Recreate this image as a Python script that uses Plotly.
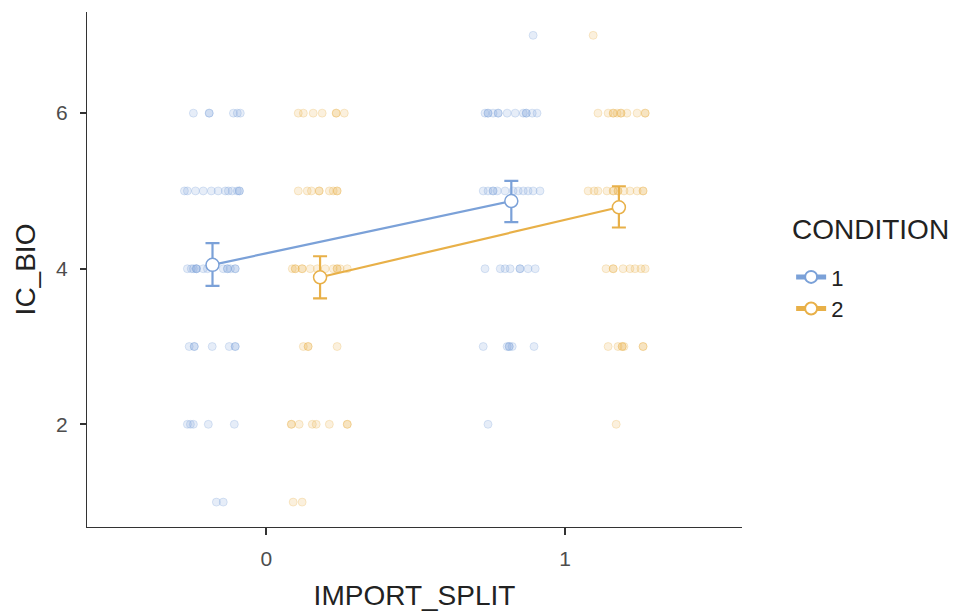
import plotly.graph_objects as go

# ---------------- data ----------------
split_levels = [0, 1]
condition_names = ["1", "2"]

# raw observations (IMPORT_SPLIT position incl. dodge/jitter, IC_BIO)
c1_x = [-0.244, -0.191, -0.191, -0.110, -0.097, -0.087,
        -0.274, -0.264, -0.237, -0.211, -0.184, -0.161, -0.137, -0.127, -0.114, -0.097, -0.090, -0.090,
        -0.264, -0.251, -0.244, -0.234, -0.234, -0.234, -0.211, -0.197, -0.144, -0.130, -0.130, -0.120, -0.104, -0.104,
        -0.258, -0.241, -0.241, -0.181, -0.124, -0.104, -0.104,
        -0.264, -0.254, -0.244, -0.194, -0.107,
        -0.167, -0.144,
        0.893,
        0.732, 0.742, 0.742, 0.759, 0.776, 0.776, 0.806, 0.833, 0.860, 0.870, 0.870, 0.890, 0.906,
        0.726, 0.742, 0.759, 0.759, 0.773, 0.799, 0.826, 0.843, 0.860, 0.876, 0.893, 0.916,
        0.732, 0.783, 0.799, 0.816, 0.849, 0.849, 0.876, 0.900,
        0.726, 0.806, 0.813, 0.813, 0.823, 0.896,
        0.742]
c1_y = [6, 6, 6, 6, 6, 6,
        5, 5, 5, 5, 5, 5, 5, 5, 5, 5, 5, 5,
        4, 4, 4, 4, 4, 4, 4, 4, 4, 4, 4, 4, 4, 4,
        3, 3, 3, 3, 3, 3, 3,
        2, 2, 2, 2, 2,
        1, 1,
        7,
        6, 6, 6, 6, 6, 6, 6, 6, 6, 6, 6, 6, 6,
        5, 5, 5, 5, 5, 5, 5, 5, 5, 5, 5, 5,
        4, 4, 4, 4, 4, 4, 4, 4,
        3, 3, 3, 3, 3, 3,
        2]

c2_x = [0.107, 0.124, 0.157, 0.187, 0.234, 0.234, 0.261,
        0.107, 0.137, 0.151, 0.177, 0.177, 0.211, 0.224, 0.237, 0.237,
        0.087, 0.097, 0.097, 0.120, 0.120, 0.147, 0.171, 0.197, 0.224, 0.237, 0.237, 0.247, 0.271,
        0.124, 0.140, 0.140, 0.237,
        0.084, 0.084, 0.110, 0.154, 0.167, 0.211, 0.271, 0.271,
        0.090, 0.120,
        1.094,
        1.110, 1.144, 1.161, 1.161, 1.174, 1.187, 1.187, 1.207, 1.241, 1.268, 1.268,
        1.077, 1.097, 1.110, 1.140, 1.161, 1.161, 1.177, 1.177, 1.197, 1.217, 1.241, 1.261, 1.261,
        1.137, 1.161, 1.161, 1.194, 1.217, 1.234, 1.254, 1.268,
        1.144, 1.177, 1.191, 1.191, 1.197, 1.261, 1.261,
        1.171]
c2_y = [6, 6, 6, 6, 6, 6, 6,
        5, 5, 5, 5, 5, 5, 5, 5, 5,
        4, 4, 4, 4, 4, 4, 4, 4, 4, 4, 4, 4, 4,
        3, 3, 3, 3,
        2, 2, 2, 2, 2, 2, 2, 2,
        1, 1,
        7,
        6, 6, 6, 6, 6, 6, 6, 6, 6, 6, 6,
        5, 5, 5, 5, 5, 5, 5, 5, 5, 5, 5, 5, 5,
        4, 4, 4, 4, 4, 4, 4, 4,
        3, 3, 3, 3, 3, 3, 3,
        2]

# summary: means and confidence limits per IMPORT_SPLIT level
c1_mean = [4.05, 4.87]
c1_low = [3.78, 4.60]
c1_high = [4.33, 5.13]
c2_mean = [3.89, 4.79]
c2_low = [3.62, 4.53]
c2_high = [4.16, 5.06]

# ---------------- style ----------------
blue = "rgb(123,161,216)"
orange = "rgb(232,176,72)"
dodge = {"1": -0.18, "2": 0.18}
FONT = "Liberation Sans, Arial, Helvetica, sans-serif"


def rgba(c, a):
    return c.replace("rgb(", "rgba(").replace(")", f",{a})")


fig = go.Figure()

raw = {"1": (c1_x, c1_y, blue), "2": (c2_x, c2_y, orange)}
for name in condition_names:
    xs, ys, col = raw[name]
    fig.add_trace(go.Scatter(
        x=xs, y=ys, mode="markers", showlegend=False, hoverinfo="skip",
        marker=dict(size=8, color=rgba(col, 0.19),
                    line=dict(color=rgba(col, 0.26), width=1)),
    ))

summ = {"1": (c1_mean, c1_low, c1_high, blue), "2": (c2_mean, c2_low, c2_high, orange)}
for name in condition_names:
    m, lo, hi, col = summ[name]
    xs = [s + dodge[name] for s in split_levels]
    fig.add_trace(go.Scatter(
        x=xs, y=m, mode="lines+markers", name=name,
        line=dict(color=col, width=2.2),
        marker=dict(size=13, color="white", line=dict(color=col, width=1.5)),
        error_y=dict(type="data", symmetric=False,
                     array=[h - v for h, v in zip(hi, m)],
                     arrayminus=[v - l for v, l in zip(m, lo)],
                     color=col, thickness=2.2, width=7),
    ))

fig.add_annotation(
    text="CONDITION", xref="paper", yref="paper",
    x=1.0733, y=0.5767, xanchor="left", yanchor="middle",
    showarrow=False, font=dict(family=FONT, size=28, color="#222"),
)

fig.update_layout(
    width=949, height=603,
    paper_bgcolor="white", plot_bgcolor="white",
    margin=dict(l=79, r=215, t=4, b=84),
    font=dict(family=FONT, color="black"),
    legend=dict(
        font=dict(family=FONT, size=22, color="#222"),
        x=1.075, y=0.526, xanchor="left", yanchor="top",
        tracegroupgap=0, itemsizing="constant",
    ),
    showlegend=True,
)

fig.update_xaxes(
    range=[-0.6, 1.592], automargin=False,
    tickvals=split_levels, ticktext=[str(s) for s in split_levels],
    showgrid=False, zeroline=False,
    showline=True, linecolor="#333", linewidth=1.2,
    ticks="outside", ticklen=7, tickwidth=1.5, tickcolor="#333",
    tickfont=dict(size=21, color="#4d4d4d"),
    ticklabelstandoff=6,
    title=dict(text="IMPORT_SPLIT", font=dict(size=28, color="#222"), standoff=17),
)
fig.update_yaxes(
    range=[0.68, 7.3], automargin=False,
    tickvals=[2, 4, 6],
    showgrid=False, zeroline=False,
    showline=True, linecolor="#333", linewidth=1.2,
    ticks="outside", ticklen=6, tickwidth=1.5, tickcolor="#333",
    tickfont=dict(size=21, color="#4d4d4d"),
    ticklabelstandoff=8,
    title=dict(text="IC_BIO", font=dict(size=28, color="#222"), standoff=12),
)

fig.write_html("out.html")
